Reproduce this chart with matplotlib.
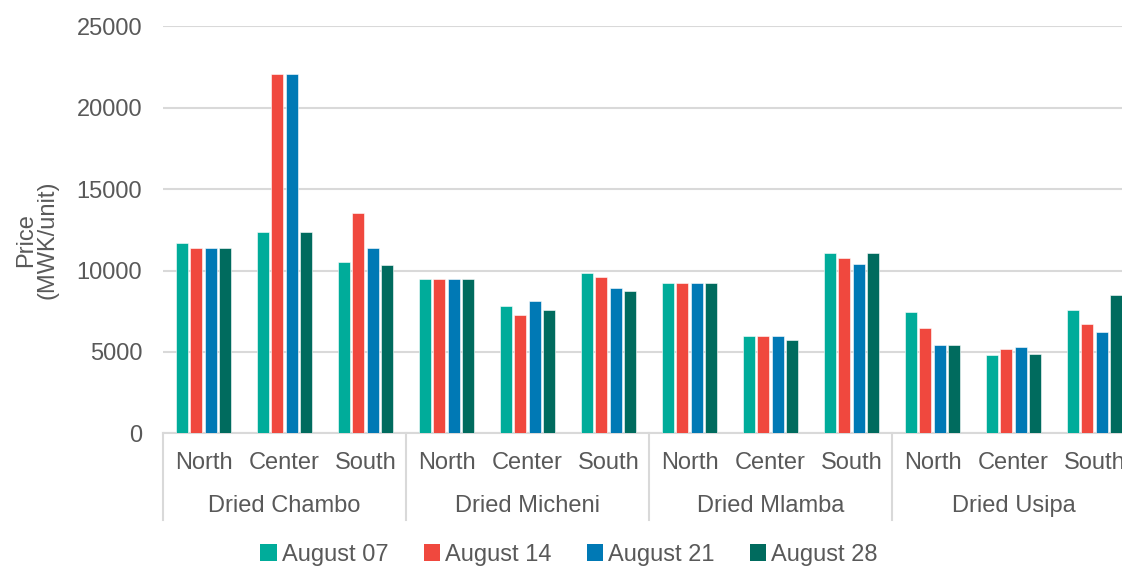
import numpy as np
import matplotlib
matplotlib.use("Agg")
from matplotlib import pyplot as plt
from matplotlib.patches import Patch
from matplotlib.transforms import blended_transform_factory

products = ["Dried Chambo", "Dried Micheni", "Dried Mlamba", "Dried Usipa"]
regions = ["North", "Center", "South"]
series = ["August 07", "August 14", "August 21", "August 28"]
colors = ["#00AC9A", "#F0483E", "#0079B5", "#006B5E"]

# values per product x region (North, Center, South)
aug07 = [11700, 12350, 10500, 9500, 7800, 9850, 9250, 6000, 11100, 7450, 4800, 7550]
aug14 = [11400, 22050, 13550, 9500, 7250, 9600, 9250, 6000, 10750, 6450, 5150, 6700]
aug21 = [11400, 22050, 11400, 9500, 8150, 8900, 9250, 6000, 10400, 5450, 5300, 6200]
aug28 = [11400, 12350, 10350, 9500, 7600, 8750, 9250, 5750, 11100, 5450, 4850, 8500]
values = [aug07, aug14, aug21, aug28]

plt.rcParams["font.family"] = ["Liberation Sans", "DejaVu Sans"]
text_col = "#595959"
grid_col = "#D9D9D9"
fs = 17

fig = plt.figure(figsize=(11.22, 5.68), dpi=100)
W, H = 1122, 568
x0, x1 = 163, 1135
y0, y1 = 433.3, 26.3
ax = fig.add_axes([x0 / W, (H - y0) / H, (x1 - x0) / W, (y0 - y1) / H])

n = len(aug07)
x = np.arange(n)
pitch = 0.179
bw = 0.148
for i, (vals, c, lab) in enumerate(zip(values, colors, series)):
    ax.bar(x + (i - 1.5) * pitch, vals, width=bw, color=c, label=lab,
           edgecolor="white", linewidth=0.4, zorder=3)

ax.set_xlim(-0.5, n - 0.5)
ax.set_ylim(0, 25000)
ax.set_yticks(range(0, 25001, 5000))
ax.yaxis.grid(True, color=grid_col, linewidth=1.5, zorder=0)
ax.set_axisbelow(True)
for s in ["top", "right", "left"]:
    ax.spines[s].set_visible(False)
ax.spines["bottom"].set_color(grid_col)
ax.spines["bottom"].set_linewidth(1.5)
ax.tick_params(axis="y", length=0, pad=15, labelsize=fs, labelcolor=text_col)
ax.set_xticks([])

# category labels below the axis
trans = blended_transform_factory(ax.transData, ax.transAxes)
ah = y0 - y1
for k in range(n):
    ax.text(k, -30 / ah, regions[k % 3], transform=trans, ha="center", va="center",
            fontsize=fs, color=text_col)
for g, name in enumerate(products):
    ax.text(3 * g + 1, -73 / ah, name, transform=trans, ha="center", va="center",
            fontsize=fs, color=text_col)
for g in range(len(products) + 1):
    ax.plot([3 * g - 0.5, 3 * g - 0.5], [0, -87 / ah], transform=trans,
            color=grid_col, linewidth=1.5, clip_on=False)

fig.text(37 / W, (H - 240) / H, "Price\n(MWK/unit)", rotation=90, ha="center",
         va="center", multialignment="center", fontsize=fs, color=text_col,
         linespacing=1.0)

handles = [Patch(facecolor=c, label=s) for c, s in zip(colors, series)]
leg = fig.legend(handles=handles, loc="center", bbox_to_anchor=(569 / W, (H - 555) / H),
                 ncol=4, frameon=False, fontsize=fs, handlelength=0.7, handleheight=0.7,
                 handletextpad=0.2, columnspacing=1.5)
for t in leg.get_texts():
    t.set_color(text_col)

fig.savefig("out.png", dpi=100)
